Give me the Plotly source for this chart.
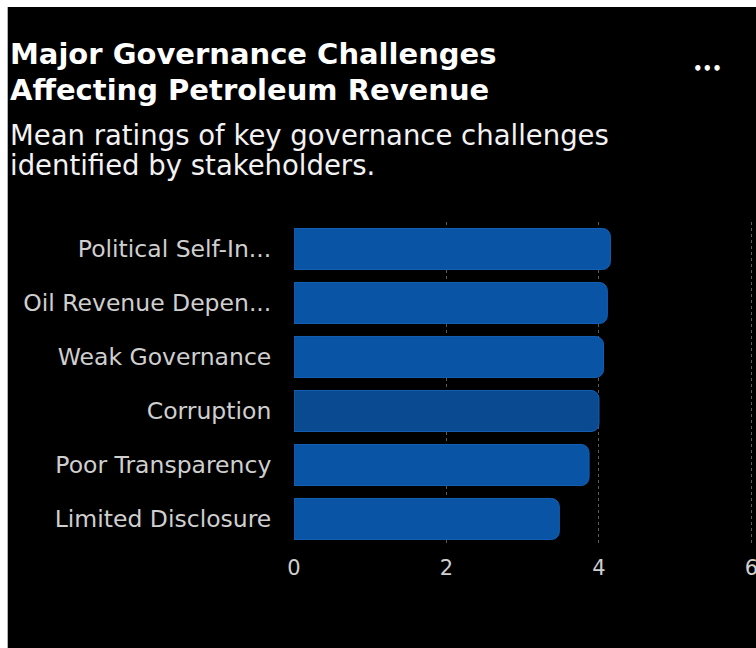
import plotly.graph_objects as go

categories = ["Political Self-In...", "Oil Revenue Depen...", "Weak Governance",
              "Corruption", "Poor Transparency", "Limited Disclosure"]
values = [4.15, 4.11, 4.06, 4.00, 3.87, 3.48]
bar_colors = ["#0a54a6", "#0a54a6", "#0a54a6", "#094a90", "#0a54a6", "#0a54a6"]
x_ticks = [0, 2, 4, 6]

title_lines = ["Major Governance Challenges", "Affecting Petroleum Revenue"]
subtitle_lines = ["Mean ratings of key governance challenges", "identified by stakeholders."]

W, H = 756, 648
L, T, B = 294, 222, 102
X_MAX = 6.02
UNIT = 457 / 6.0
PW = X_MAX * UNIT
R = W - L - PW
PH = H - T - B


def px(x):
    return (x - L) / PW


def py(y):
    return (H - B - y) / PH


fig = go.Figure(go.Bar(
    y=categories,
    x=values,
    orientation="h",
    width=0.76,
    marker=dict(color=bar_colors, cornerradius=8,
                line=dict(color="#1460b5", width=1)),
    hoverinfo="skip",
))

annotations = []
for i, line in enumerate(title_lines):
    annotations.append(dict(
        text="<b>" + line + "</b>", x=px(8), y=py(54 + 36 * i),
        xref="paper", yref="paper", xanchor="left", yanchor="middle",
        showarrow=False, font=dict(family="DejaVu Sans", size=29, color="#ffffff")))
for i, line in enumerate(subtitle_lines):
    annotations.append(dict(
        text=line, x=px(8), y=py(135 + 30 * i),
        xref="paper", yref="paper", xanchor="left", yanchor="middle",
        showarrow=False, font=dict(family="DejaVu Sans", size=27.5, color="#f2f2f2")))
annotations.append(dict(
    text="<b>•••</b>", x=px(707), y=py(69), xref="paper", yref="paper",
    xanchor="center", yanchor="middle", showarrow=False,
    font=dict(family="DejaVu Sans", size=15, color="#ffffff")))

shapes = [
    dict(type="rect", xref="paper", yref="paper", x0=px(0), x1=px(8), y0=py(H), y1=py(0),
         fillcolor="#ffffff", line=dict(width=0), layer="above"),
    dict(type="rect", xref="paper", yref="paper", x0=px(0), x1=px(W), y0=py(7), y1=py(0),
         fillcolor="#ffffff", line=dict(width=0), layer="above"),
]

fig.update_layout(
    width=W, height=H,
    margin=dict(l=L, r=R, t=T, b=B, pad=0, autoexpand=False),
    paper_bgcolor="#000000",
    plot_bgcolor="#000000",
    showlegend=False,
    annotations=annotations,
    shapes=shapes,
    xaxis=dict(
        range=[0, X_MAX], tickvals=x_ticks, ticktext=[str(v) for v in x_ticks],
        showgrid=True, gridcolor="#5a5a5a", griddash="dot", gridwidth=1,
        zeroline=False, showline=False, ticks="outside", ticklen=3,
        tickcolor="rgba(0,0,0,0)", ticklabeloverflow="allow", automargin=False,
        tickfont=dict(family="DejaVu Sans", size=21, color="#cfcfcf"),
        fixedrange=True,
    ),
    yaxis=dict(
        autorange="reversed", showgrid=False, zeroline=False, showline=False,
        ticks="outside", ticklen=17, tickcolor="rgba(0,0,0,0)", automargin=False,
        tickfont=dict(family="DejaVu Sans", size=23.5, color="#cfcfcf"),
        fixedrange=True,
    ),
)

fig.write_html("out.html", config={"displayModeBar": False})
